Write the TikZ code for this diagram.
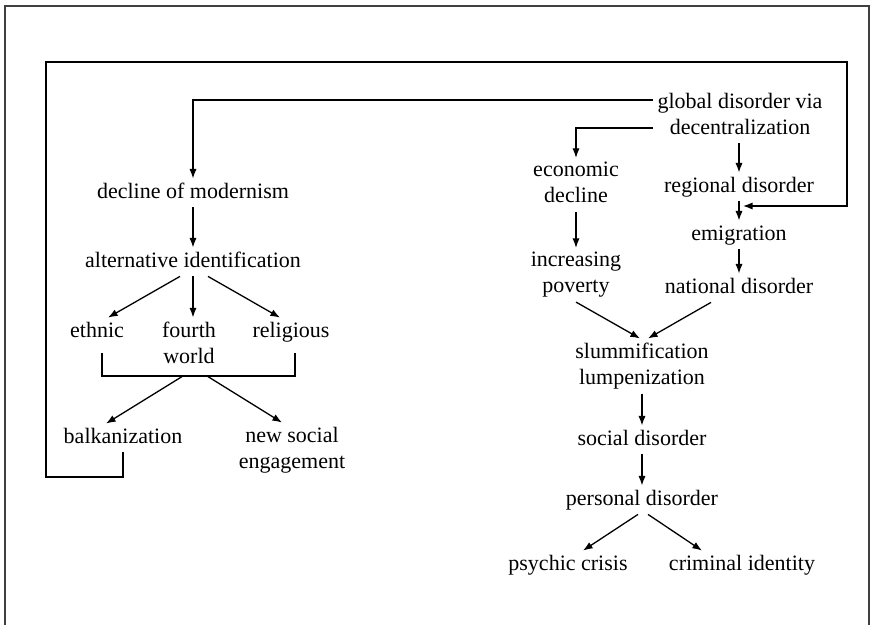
\documentclass[tikz,border=0pt]{standalone}
\usepackage{fontspec}
\setmainfont{Liberation Serif}
\usetikzlibrary{arrows.meta}

\begin{document}
\begin{tikzpicture}[x=.5pt,y=-.5pt,
		lbl/.style={inner sep=2pt,align=center,text depth=2.4pt,font=\fontsize{11}{13}\selectfont},
		one/.style={lbl,text height=7.6pt},
		ln/.style={line width=.65pt},
		arr/.style={ln,-{Latex[length=4.8pt,width=3.6pt]}}]
		\useasboundingbox (0,0) rectangle (875,625);
		\draw[line width=.8pt,black!75] (5,625) -- (5,6) -- (869,6) -- (869,625);
		% right column
		\node[lbl] (glob) at (740,116) {global disorder via\\decentralization};
		\node[one] (regi) at (739,187) {regional disorder};
		\node[one] (emig) at (739,235) {emigration};
		\node[one] (nati) at (739,288) {national disorder};
		\node[lbl] (econ) at (576,185) {economic\\decline};
		\node[lbl] (incr) at (576,275) {increasing\\poverty};
		\node[lbl] (slum) at (642,366) {slummification\\lumpenization};
		\node[one] (soci) at (642,440) {social disorder};
		\node[one] (pers) at (642,500) {personal disorder};
		\node[one] (psyc) at (568,565) {psychic crisis};
		\node[one] (crim) at (742,565) {criminal identity};
		% left column
		\node[one] (decl) at (193,193) {decline of modernism};
		\node[one] (alt) at (193,262) {alternative identification};
		\node[one] (ethn) at (97,332) {ethnic};
		\node[lbl] (four) at (189,345) {fourth\\world};
		\node[one] (reli) at (291,332) {religious};
		\node[one] (balk) at (123,438) {balkanization};
		\node[lbl] (nsoc) at (292,450) {new social\\engagement};
		\coordinate (brl) at (102,376);
		\coordinate (brr) at (295,376);
		\coordinate (brm) at (195,376);
		\coordinate (lpa) at (46,477);
		\coordinate (lpb) at (847,62);
		\coordinate (lpc) at (847,206);

		\draw[arr] ([yshift=8pt]glob.west) -| (decl.north);
		\draw[arr] ([yshift=-6pt]glob.west) -| (econ.north);
		\draw[arr] (glob.south -| regi.north) -- (regi.north);
		\draw[arr] (regi.south) -- (emig.north);
		\draw[arr] (emig.south) -- (nati.north);
		\draw[arr] (econ.south) -- (incr.north);
		\draw[arr] (incr.south) -- ([xshift=-1pt]slum.north);
		\draw[arr] ([xshift=-14pt]nati.south) -- ([xshift=3pt]slum.north);
		\draw[arr] (slum.south) -- (soci.north);
		\draw[arr] (soci.south) -- (pers.north);
		\draw[arr] ([xshift=-2pt]pers.south) -- ([xshift=7.5pt]psyc.north);
		\draw[arr] ([xshift=3pt]pers.south) -- ([xshift=-20pt]crim.north);

		\draw[arr] (decl.south) -- (alt.north);
		\draw[arr] ([xshift=-6.5pt]alt.south) -- ([xshift=5.5pt]ethn.north);
		\draw[arr] (alt.south) -- (alt.south |- four.north);
		\draw[arr] ([xshift=7.5pt]alt.south) -- ([xshift=-5.5pt]reli.north);
		\draw[ln] (brl) ++(0,-23) -- (brl) -- (brr) -- ++(0,-23);
		\draw[arr] ([xshift=-6pt]brm) -- ([xshift=-8.5pt]balk.north);
		\draw[arr] ([xshift=6pt]brm) -- ([xshift=-5pt]nsoc.north);
		% feedback loop
		\draw[arr,shorten >=2pt] (balk.south) |- (lpa) |- (lpb) -- (lpc) -- (lpc -| emig.north);
	\end{tikzpicture}
\end{document}
